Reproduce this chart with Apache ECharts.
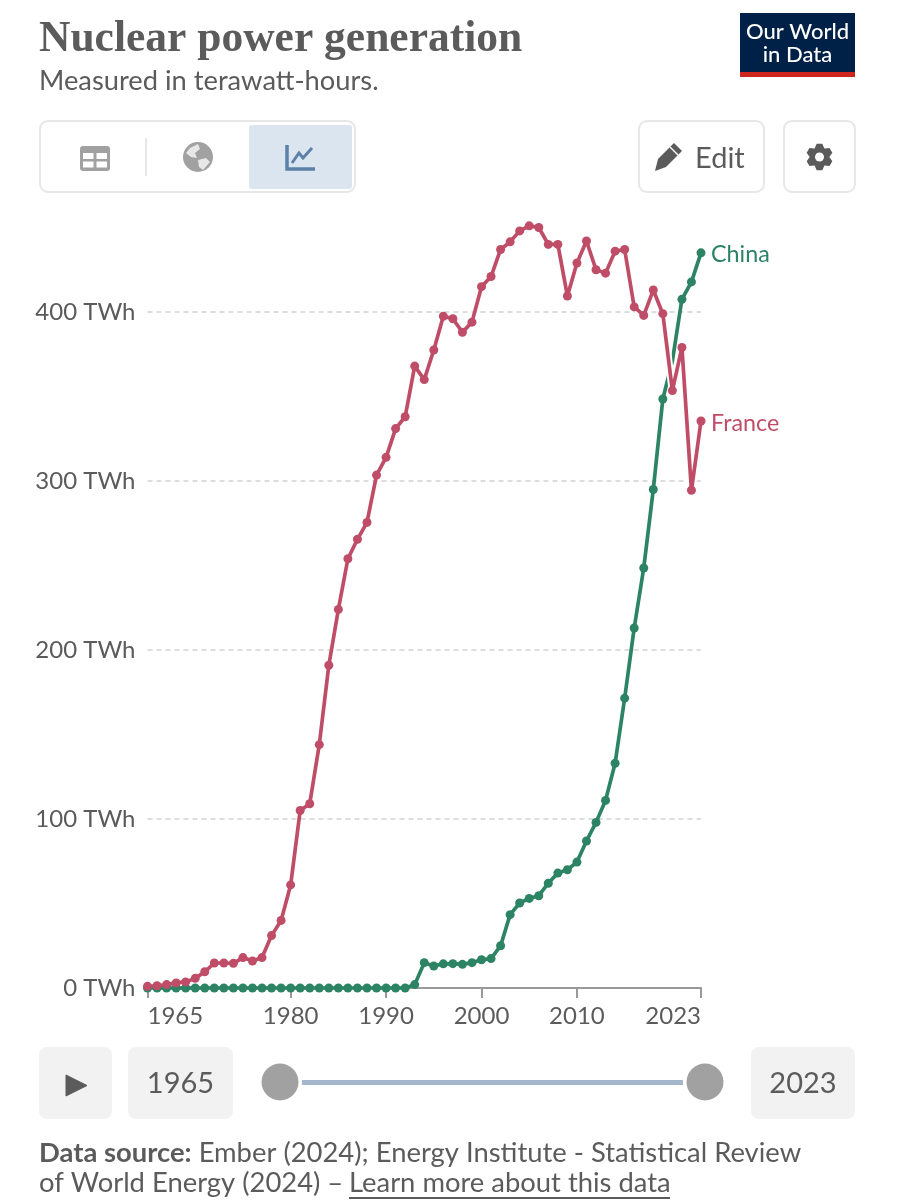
<!DOCTYPE html>
<html>
<head>
<meta charset="utf-8">
<style>html,body{margin:0;padding:0;background:#fff}#c{width:897px;height:1200px}</style>
<script src="https://cdn.jsdelivr.net/npm/echarts@6/dist/echarts.min.js"></script>
</head>
<body>
<div id="c"></div>
<script>
const years = [];
for (let y = 1965; y <= 2023; y++) years.push(y);
const franceTwh = [1,1.3,2,3,3.6,5.7,9.6,14.8,14.8,14.6,18,16,18,31,40,61,105,109,144,191,224,254,265.5,275.5,303.5,314,331,338,368,360,377.5,397.5,396,388,394,415,421,437,441.5,448,451,450,440,440,409.5,429,442,425,423,436,437,403,398,413,399,353.5,379,294.5,335.5];
const chinaTwh = [0,0,0,0,0,0,0,0,0,0,0,0,0,0,0,0,0,0,0,0,0,0,0,0,0,0,0,0,2,15,13,14.3,14.4,14,15,16.7,17.4,25,43.4,50.3,53,54.6,62,68,70,74.5,87,98,111,133,171.5,213,248.5,295,348.5,371,407.5,417.8,435];
const chinaHiddenDots = [2020];
const xTickYears = [1965,1980,1990,2000,2010,2023];
const yMax = 500;
const seriesColors = {France:'#BF4D68', China:'#2C8465'};
const GREY = '#5b5b5b', ICON = '#a1a1a1', FONT = 'Lato';

const pair = (a) => a.map((v,i)=>[years[i],v]);

function box(x,y,w,h,opt){
  return Object.assign({type:'rect',shape:{x,y,width:w,height:h,r:8},silent:true},opt);
}
function txt(x,y,text,size,opt){
  return {type:'text',x,y,silent:true,style:Object.assign({text,fontFamily:FONT,fontSize:size,fill:GREY,verticalAlign:'middle'},opt||{})};
}

const chrome = [
  // logo
  {type:'rect',shape:{x:740,y:13,width:115,height:64},style:{fill:'#002147'},silent:true},
  {type:'rect',shape:{x:740,y:72,width:115,height:5},style:{fill:'#CE261E'},silent:true},
  txt(797.5,32,'Our World',22,{fill:'#fff',align:'center',fontWeight:500}),
  txt(797.5,55,'in Data',22,{fill:'#fff',align:'center',fontWeight:500}),
  // view toggle
  box(40,121,315,71,{style:{fill:'#fff',stroke:'#e7e7e7',lineWidth:2}}),
  box(249,125,103,64,{shape:{x:249,y:125,width:103,height:64,r:3},style:{fill:'#dbe5f0'}}),
  {type:'rect',shape:{x:145,y:138,width:2,height:38},style:{fill:'#e7e7e7'},silent:true},
  // table icon
  box(80,146,30,25,{shape:{x:80,y:146,width:30,height:25,r:3},style:{fill:ICON}}),
  {type:'rect',shape:{x:83,y:153,width:10.5,height:6},style:{fill:'#fff'},silent:true},
  {type:'rect',shape:{x:96.5,y:153,width:10.5,height:6},style:{fill:'#fff'},silent:true},
  {type:'rect',shape:{x:83,y:161.5,width:10.5,height:6},style:{fill:'#fff'},silent:true},
  {type:'rect',shape:{x:96.5,y:161.5,width:10.5,height:6},style:{fill:'#fff'},silent:true},
  // globe icon
  {type:'circle',shape:{cx:198,cy:157,r:15},style:{fill:ICON},silent:true},
  {type:'polygon',shape:{points:[[190,148],[198,144],[200,149],[195,153],[197,158],[191,157],[186,153]]},style:{fill:'#fff',opacity:.75},silent:true},
  {type:'polygon',shape:{points:[[198,160],[206,158],[210,162],[203,170],[199,167]]},style:{fill:'#fff',opacity:.75},silent:true},
  // chart icon
  {type:'polyline',shape:{points:[[287,145],[287,169],[315,169]]},style:{stroke:'#5d80a8',lineWidth:3.5,fill:'none'},silent:true},
  {type:'polyline',shape:{points:[[292,163],[299,153],[303,158],[312,148]]},style:{stroke:'#5d80a8',lineWidth:3,fill:'none'},silent:true},
  // edit
  box(639,121,125,71,{style:{fill:'#fff',stroke:'#e7e7e7',lineWidth:2}}),
  {type:'polygon',shape:{points:[[655,171],[658,159],[674,143],[682,151],[666,167]]},style:{fill:GREY},silent:true},
  {type:'polyline',shape:{points:[[670,147],[678,155]]},style:{stroke:'#fff',lineWidth:1.5},silent:true},
  txt(695,159,'Edit',29),
  // settings
  box(784,121,71,71,{style:{fill:'#fff',stroke:'#e7e7e7',lineWidth:2}}),
  {type:'polygon',shape:{points:(()=>{const p=[];const cx=819.5,cy=157;for(let i=0;i<6;i++){const a=i/6*Math.PI*2+Math.PI/6,s=Math.PI/6;[[10,a-s*.95],[13.5,a-s*.4],[13.5,a+s*.4],[10,a+s*.95]].forEach(q=>p.push([cx+q[0]*Math.cos(q[1]),cy+q[0]*Math.sin(q[1])]));}return p;})()},style:{fill:GREY},silent:true},
  {type:'circle',shape:{cx:819.5,cy:157,r:4.5},style:{fill:'#fff'},silent:true},
  // timeline
  box(39,1047,73,72,{style:{fill:'#f2f2f2'}}),
  {type:'polygon',shape:{points:[[66,1075],[87,1085.5],[66,1096]]},style:{fill:GREY,stroke:GREY,lineWidth:1,lineJoin:'round'},silent:true},
  box(128,1047,105,72,{style:{fill:'#f2f2f2'}}),
  txt(180.5,1084,'1965',29,{align:'center'}),
  {type:'rect',shape:{x:302,y:1080,width:381,height:5},style:{fill:'#a4b6cc'},silent:true},
  {type:'circle',shape:{cx:280,cy:1082,r:18.5},style:{fill:ICON},silent:true},
  {type:'circle',shape:{cx:705,cy:1082,r:18.5},style:{fill:ICON},silent:true},
  box(751,1047,104,72,{style:{fill:'#f2f2f2'}}),
  txt(803,1084,'2023',29,{align:'center'}),
  // footer
  {type:'text',x:39,y:1153,silent:true,style:{text:'{b|Data source:}{n|\u00a0Ember (2024); Energy Institute - Statistical Review}',verticalAlign:'middle',fill:GREY,rich:{b:{fontFamily:FONT,fontWeight:700,fontSize:27.4,fill:GREY},n:{fontFamily:FONT,fontSize:27.4,fill:GREY}}}},
  txt(39,1183,'of World Energy (2024) –',27.4),
  txt(349,1183,'Learn more about this data',27.4),
  {type:'rect',shape:{x:349,y:1197,width:321,height:2},style:{fill:GREY},silent:true}
];

const chart = echarts.init(document.getElementById('c'),null,{renderer:'canvas',width:897,height:1200});
chart.setOption({
  animation:false,
  backgroundColor:'#fff',
  title:{
    text:'Nuclear power generation',
    subtext:'Measured in terawatt-hours.',
    left:39, top:18, itemGap:6, padding:0,
    textStyle:{fontFamily:'Liberation Serif',fontWeight:700,fontSize:43.5,color:GREY},
    subtextStyle:{fontFamily:FONT,fontSize:27.3,color:GREY}
  },
  grid:{left:147.5,right:196,top:143,bottom:212,containLabel:false},
  xAxis:{
    type:'value',min:1965,max:2023,
    splitLine:{show:false},
    axisLine:{show:true,onZero:true,lineStyle:{color:'#999',width:2}},
    axisTick:{show:true,customValues:xTickYears,length:10,lineStyle:{color:'#999',width:2}},
    axisLabel:{show:true,customValues:xTickYears,alignMinLabel:'left',alignMaxLabel:'right',margin:16,fontFamily:FONT,fontSize:24,color:GREY,formatter:(v)=>String(v)}
  },
  yAxis:{
    type:'value',min:0,max:yMax,interval:100,
    axisLine:{show:false},axisTick:{show:false},
    splitLine:{show:true,showMinLine:false,showMaxLine:false,lineStyle:{color:'#dddddd',type:[5,4],width:2}},
    axisLabel:{show:true,showMaxLabel:false,margin:12,fontFamily:FONT,fontSize:24,color:GREY,formatter:(v)=>v+' TWh'}
  },
  series:[
    {name:'China',type:'line',
      data:pair(chinaTwh).map(p=>chinaHiddenDots.includes(p[0])?{value:p,symbol:'none'}:p),
      symbol:'circle',symbolSize:9,showSymbol:true,clip:false,
      lineStyle:{color:seriesColors.China,width:3.7},itemStyle:{color:seriesColors.China},
      endLabel:{show:true,formatter:'{a}',distance:10,offset:[0,2],fontFamily:FONT,fontSize:23.3,color:seriesColors.China},z:3},
    {name:'halo',type:'line',data:pair(franceTwh).slice(-8),symbol:'none',clip:false,silent:true,
      lineStyle:{color:'#fff',width:7.5},z:3},
    {name:'France',type:'line',data:pair(franceTwh),symbol:'circle',symbolSize:9,showSymbol:true,clip:false,
      lineStyle:{color:seriesColors.France,width:3.7},itemStyle:{color:seriesColors.France},
      endLabel:{show:true,formatter:'{a}',distance:10,offset:[0,2],fontFamily:FONT,fontSize:23.3,color:seriesColors.France},z:3}
  ],
  graphic:{elements:chrome}
});
</script>
</body>
</html>
